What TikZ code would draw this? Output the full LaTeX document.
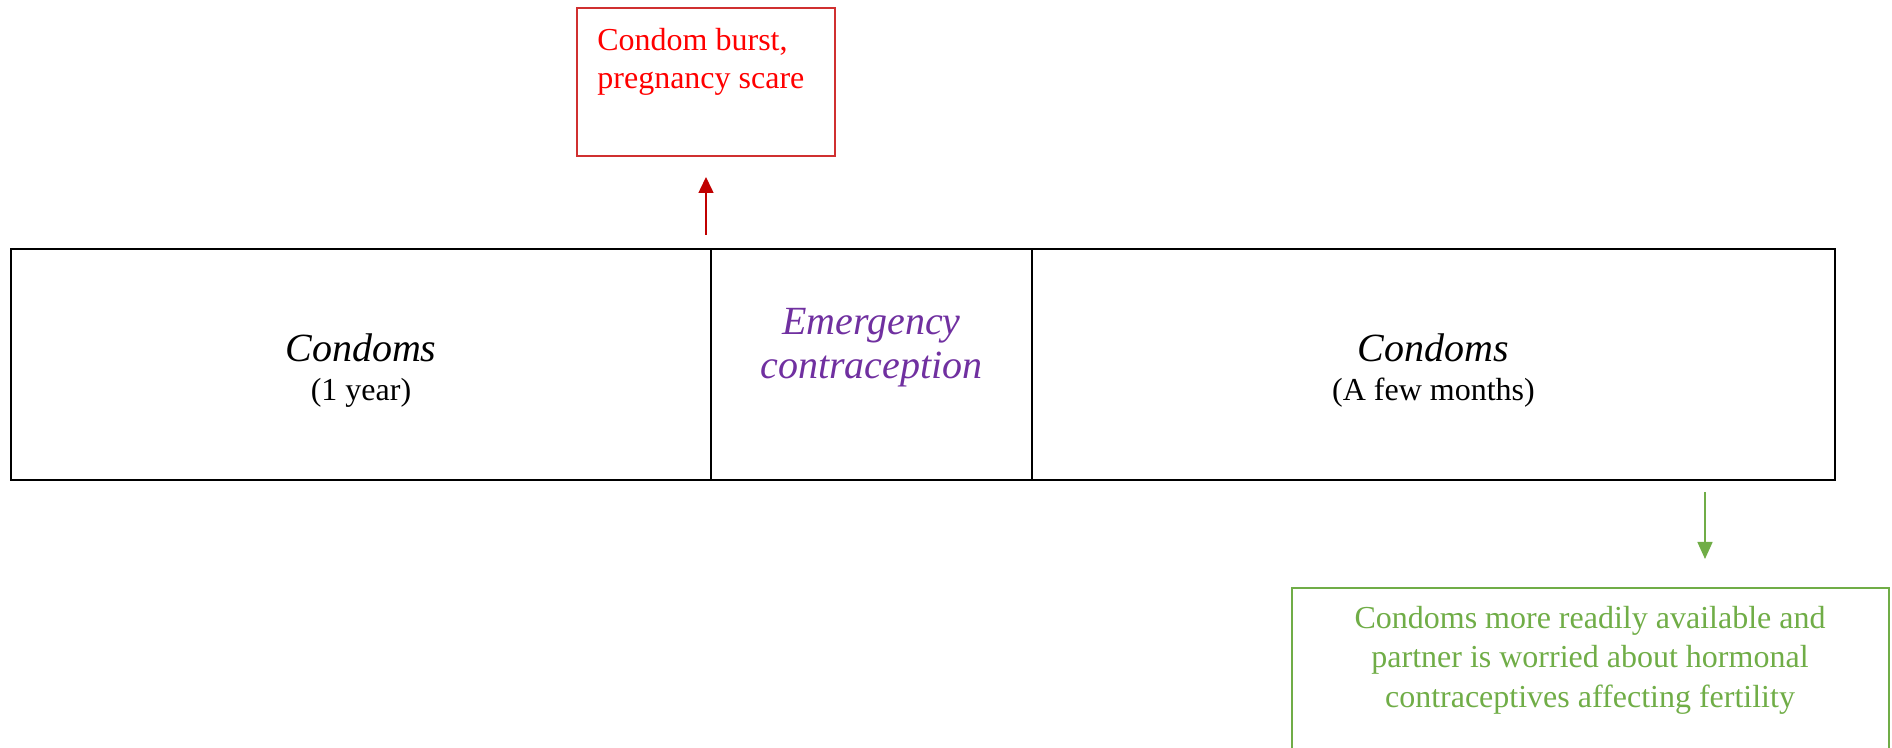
\documentclass[tikz,border=0pt]{standalone}
\usepackage{fontspec}
\setmainfont{Liberation Serif}
\usetikzlibrary{arrows.meta}

\definecolor{ecpurple}{HTML}{7030A0}
\definecolor{burstred}{HTML}{FF0000}
\definecolor{burstline}{HTML}{D03030}
\definecolor{arrowred}{HTML}{C00000}
\definecolor{switchgreen}{HTML}{70AD47}

\tikzset{
  cell/.style={draw=black, line width=0.65pt, inner sep=0pt, outer sep=0pt, minimum height=115.5pt},
  frame/.style={draw=black, line width=0.9pt},
  ttl/.style={inner sep=0pt, font=\fontsize{20pt}{23pt}\selectfont\itshape, anchor=base},
  sub/.style={inner sep=0pt, font=\fontsize{16pt}{18pt}\selectfont, anchor=base},
  notebox/.style={draw, line width=0.6pt, inner sep=0pt, outer sep=0pt},
  notetext/.style={inner sep=0pt, font=\fontsize{16pt}{18pt}\selectfont},
  redarrow/.style={draw=arrowred, line width=0.75pt, -{Triangle[length=8pt, width=7.5pt]}},
  greenarrow/.style={draw=switchgreen, line width=0.75pt, -{Triangle[length=8.5pt, width=7.5pt]}}
}

\begin{document}
\begin{tikzpicture}[x=0.5pt, y=-0.5pt]
  \clip (0,0) rectangle (1892,748);

  % timeline of methods
  \node[cell, minimum width=350pt] (c1) at (361,364.5) {};
  \node[cell, minimum width=160.5pt] (c2) at (871.5,364.5) {};
  \node[cell, minimum width=401.5pt] (c3) at (1433.5,364.5) {};
  \draw[frame] (c1.north west) rectangle (c3.south east);

  \node[ttl] (t1) at (361,362) {Condoms};
  \node[sub] (s1) at (361,401) {(1 year)};
  \node[ttl, text=ecpurple] (e1) at (871.5,335) {Emergency};
  \node[ttl, text=ecpurple] (e2) at (871.5,379) {contraception};
  \node[ttl] (t3) at (1433.5,362) {Condoms};
  \node[sub] (s3) at (1433.5,401) {(A few months)};

  % reason for the switch to emergency contraception
  \node[notebox, draw=burstline, minimum width=129pt, minimum height=74pt] (rb) at (706,82) {};
  \node[notetext, text=burstred, anchor=base west] (r1) at (597,51) {Condom burst,};
  \node[notetext, text=burstred, anchor=base west] (r2) at (597,89) {pregnancy scare};

  % reason for staying with condoms
  \node[notebox, draw=switchgreen, minimum width=298.5pt, minimum height=106pt] (gb) at (1590.5,694) {};
  \node[notetext, text=switchgreen, anchor=base] (g1) at (1590,629) {Condoms more readily available and};
  \node[notetext, text=switchgreen, anchor=base] (g2) at (1590,668) {partner is worried about hormonal};
  \node[notetext, text=switchgreen, anchor=base] (g3) at (1590,707) {contraceptives affecting fertility};

  % connectors
  \draw[redarrow, shorten <=7pt, shorten >=10.5pt] (rb.south |- c1.north) -- (rb.south);
  \coordinate (gx) at (1705,0);
  \draw[greenarrow, shorten <=6pt, shorten >=14.5pt] (c3.south -| gx) -- (gb.north -| gx);
\end{tikzpicture}
\end{document}
